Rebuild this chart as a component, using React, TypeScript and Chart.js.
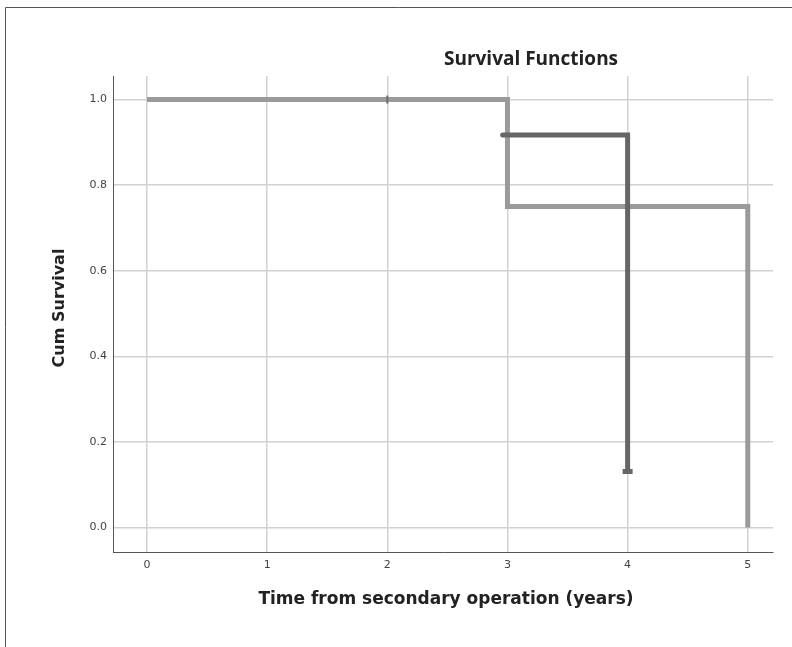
import React, { useEffect, useRef } from "react";
import { Chart, registerables } from "chart.js";

Chart.register(...registerables);

// Group A (lighter line): step curve
const TIME_A = [0, 3, 3, 5, 5];
const SURV_A = [1.0, 1.0, 0.75, 0.75, 0.0];
// Group B (darker line): step curve
const TIME_B = [2.96, 4, 4];
const SURV_B = [0.917, 0.917, 0.131];
// Censor marks
const CENSOR_A_TIME = [2];
const CENSOR_A_SURV = [1.0];
const CENSOR_B_TIME = [4];
const CENSOR_B_SURV = [0.131];

const X_TICKS = [0, 1, 2, 3, 4, 5];
const Y_TICKS = [0.0, 0.2, 0.4, 0.6, 0.8, 1.0];

const TITLE = "Survival Functions";
const X_TITLE = "Time from secondary operation (years)";
const Y_TITLE = "Cum Survival";

const pts = (xs: number[], ys: number[]) => xs.map((x, i) => ({ x, y: ys[i] }));

const textPlugin = {
  id: "texts",
  beforeDraw(chart: any) {
    const ctx = chart.ctx;
    ctx.save();
    ctx.fillStyle = "#ffffff";
    ctx.fillRect(0, 0, chart.width, chart.height);
    ctx.strokeStyle = "#555";
    ctx.lineWidth = 1;
    ctx.beginPath();
    ctx.moveTo(5.5, chart.height);
    ctx.lineTo(5.5, 7.5);
    ctx.lineTo(chart.width, 7.5);
    ctx.stroke();
    ctx.restore();
  },
  afterDraw(chart: any) {
    const ctx = chart.ctx;
    ctx.save();
    ctx.fillStyle = "#222";
    ctx.textAlign = "center";
    ctx.textBaseline = "middle";
    ctx.font = "bold 19px 'Open Sans'";
    ctx.fillText(TITLE, 531, 60);
    ctx.font = "bold 17px 'DejaVu Sans'";
    ctx.fillText(X_TITLE, 446, 600);
    ctx.font = "bold 16px 'DejaVu Sans'";
    ctx.translate(60, 308);
    ctx.rotate(-Math.PI / 2);
    ctx.fillText(Y_TITLE, 0, 0);
    ctx.restore();
  },
};

export default function App() {
  const ref = useRef<HTMLCanvasElement>(null);
  useEffect(() => {
    if (!ref.current) return;
    const chart = new Chart(ref.current, {
      type: "scatter",
      data: {
        datasets: [
          {
            data: pts(CENSOR_B_TIME, CENSOR_B_SURV),
            showLine: false,
            pointStyle: "line",
            pointRadius: 5,
            pointBorderWidth: 5,
            borderColor: "#666",
            backgroundColor: "#666",
          } as any,
          {
            data: pts(CENSOR_A_TIME, CENSOR_A_SURV),
            showLine: false,
            pointStyle: "line",
            rotation: 90,
            pointRadius: 4,
            pointBorderWidth: 2,
            borderColor: "#6e6e6e",
            backgroundColor: "#6e6e6e",
          } as any,
          {
            data: pts(TIME_B, SURV_B),
            showLine: true,
            borderColor: "#666",
            borderWidth: 5,
            borderCapStyle: "round",
            pointRadius: 0,
          } as any,
          {
            data: pts(TIME_A, SURV_A),
            showLine: true,
            borderColor: "#9a9a9a",
            borderWidth: 5,
            borderCapStyle: "butt",
            pointRadius: 0,
          } as any,
        ],
      },
      options: {
        animation: false,
        responsive: false,
        devicePixelRatio: 1,
        layout: { padding: { left: 0, right: 19, top: 76, bottom: 0 } },
        plugins: { legend: { display: false }, tooltip: { enabled: false }, title: { display: false } },
        scales: {
          x: {
            type: "linear",
            min: -0.283,
            max: 5.21,
            afterBuildTicks: (s: any) => {
              s.ticks = X_TICKS.map((v) => ({ value: v }));
            },
            afterFit: (s: any) => {
              s.height = 95;
            },
            grid: { color: "#d2d2d2", lineWidth: 1.5, drawTicks: false },
            border: { display: true, color: "#555", width: 1 },
            ticks: {
              padding: 7,
              color: "#444",
              font: { family: "'DejaVu Sans'", size: 11 },
              callback: (v: any) => String(v),
            },
          },
          y: {
            type: "linear",
            min: -0.057,
            max: 1.055,
            afterBuildTicks: (s: any) => {
              s.ticks = Y_TICKS.map((v) => ({ value: v }));
            },
            afterFit: (s: any) => {
              s.width = 113;
            },
            grid: { color: "#d2d2d2", lineWidth: 1.5, drawTicks: false },
            border: { display: true, color: "#555", width: 1 },
            ticks: {
              padding: 6,
              color: "#444",
              font: { family: "'DejaVu Sans'", size: 11 },
              callback: (v: any) => Number(v).toFixed(1),
            },
          },
        },
      },
      plugins: [textPlugin],
    } as any);
    return () => chart.destroy();
  }, []);
  return (
    <div style={{ position: "absolute", left: 0, top: 0, width: 792, height: 647 }}>
      <canvas ref={ref} width={792} height={647} style={{ display: "block" }} />
    </div>
  );
}
